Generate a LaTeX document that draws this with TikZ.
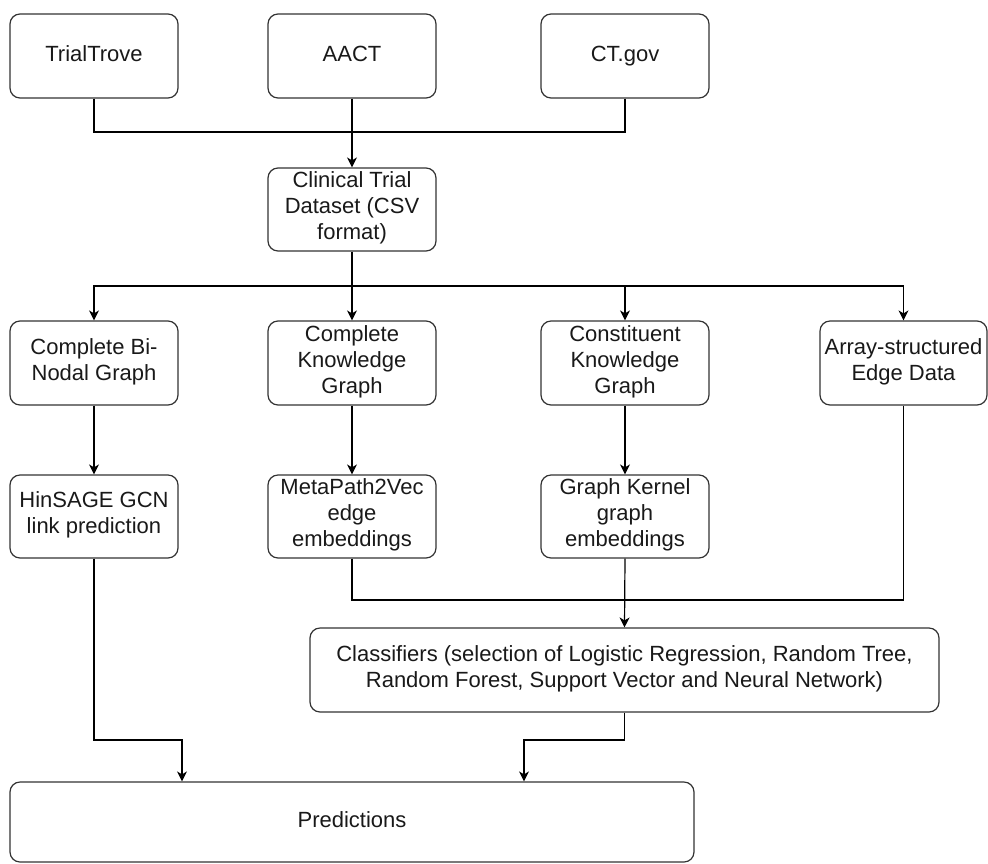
\documentclass[tikz,border=0pt]{standalone}
\usepackage{fontspec}
\setmainfont{Liberation Sans}
\usetikzlibrary{arrows.meta}

\begin{document}
\begin{tikzpicture}[x=1pt,y=1pt]
            \tikzstyle{box}=[draw=black!80, line width=1.2pt, rounded corners=10pt, align=center, inner sep=1pt, minimum width=168pt, minimum height=84pt, font=\fontsize{22}{26}\selectfont, text=black!90, execute at begin node=\strut, execute at end node=\strut];
            \tikzstyle{link}=[line width=1.2pt, -{Stealth[length=10pt,width=10pt,inset=3pt]}];
            \tikzstyle{line}=[line width=1.2pt];
            \useasboundingbox (0,0) rectangle (988,-863);
            % sources
            \node[box] (trove) at (94,-56) {TrialTrove};
            \node[box] (aact) at (352,-56) {AACT};
            \node[box] (ctgov) at (625,-56) {CT.gov};
            \node[box, minimum height=83pt] (dataset) at (352,-209.5) {Clinical Trial\\Dataset (CSV\\format)};
            % graphs
            \node[box] (binodal) at (94,-363) {Complete Bi-\\Nodal Graph};
            \node[box] (ckg) at (352,-363) {Complete\\Knowledge\\Graph};
            \node[box] (constkg) at (625,-363) {Constituent\\Knowledge\\Graph};
            \node[box, minimum width=167pt] (array) at (903.5,-363) {Array-structured\\Edge Data};
            % embeddings
            \node[box, minimum height=83pt] (hinsage) at (94,-516.5) {HinSAGE GCN\\link prediction};
            \node[box, minimum height=83pt] (metapath) at (352,-516.5) {MetaPath2Vec\\edge\\embeddings};
            \node[box, minimum height=83pt] (kernel) at (625,-516.5) {Graph Kernel\\graph\\embeddings};
            \node[box, minimum width=629pt] (classif) at (624.5,-670) {Classifiers (selection of Logistic Regression, Random Tree,\\Random Forest, Support Vector and Neural Network)};
            \node[box, minimum width=684pt, minimum height=80pt] (pred) at (352,-822) {Predictions};
            % join points
            \coordinate (join1) at (352,-132);
            \coordinate (split) at (352,-286);
            \coordinate (join2) at (625,-600);
            \coordinate (bend1) at (182,-740);
            \coordinate (bend2) at (524,-740);
            % connectors
            \draw[line] (trove.south) |- (join1);
            \draw[line] (ctgov.south) |- (join1);
            \draw[link] (aact.south) -- (dataset.north);
            \draw[link] (dataset.south) -- (ckg.north);
            \draw[link] (split) -| (binodal.north);
            \draw[link] (split) -| (constkg.north);
            \draw[link] (split) -| (array.north);
            \draw[link] (binodal.south) -- (hinsage.north);
            \draw[link] (ckg.south) -- (metapath.north);
            \draw[link] (constkg.south) -- (kernel.north);
            \draw[line] (metapath.south) |- (join2);
            \draw[line] (array.south) |- (join2);
            \draw[link] (kernel.south) -- (classif.north);
            \draw[link] (hinsage.south) |- (bend1) -- (bend1 |- pred.north);
            \draw[link] (classif.south) |- (bend2) -- (bend2 |- pred.north);
        \end{tikzpicture}
\end{document}
